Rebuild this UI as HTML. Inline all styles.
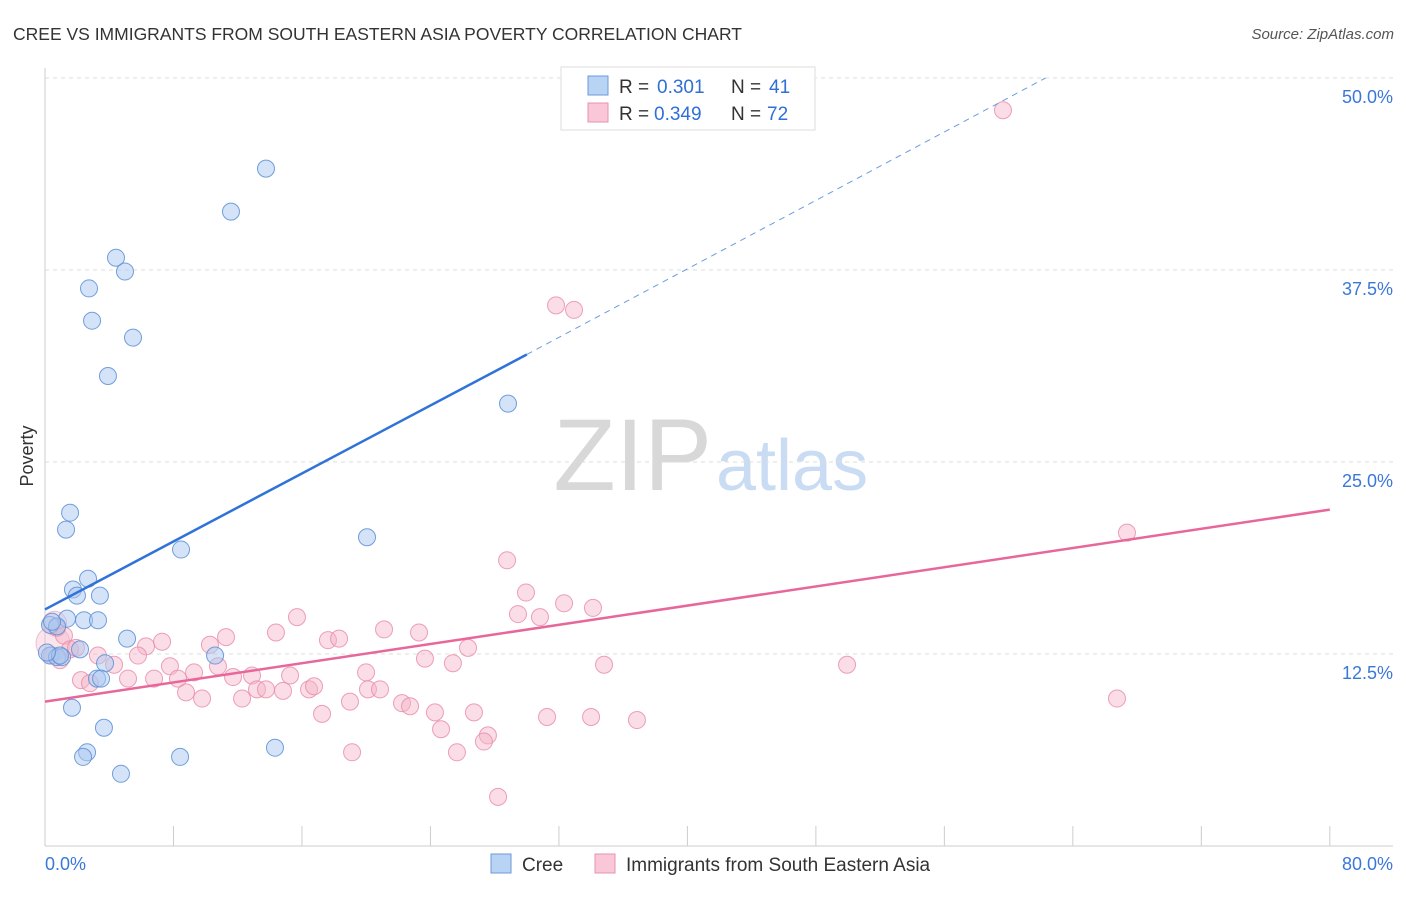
<!DOCTYPE html>
<html><head><meta charset="utf-8"><style>
body{margin:0;background:#fff;font-family:"Liberation Sans",sans-serif;}
svg text{font-family:"Liberation Sans",sans-serif;}
</style></head><body>
<svg id="chart" width="1406" height="892" xmlns="http://www.w3.org/2000/svg">
<text x="13" y="40" font-size="17.5" fill="#333">CREE VS IMMIGRANTS FROM SOUTH EASTERN ASIA POVERTY CORRELATION CHART</text>
<text x="1394" y="39" font-size="15" fill="#555" font-style="italic" text-anchor="end">Source: ZipAtlas.com</text>
<text x="712" y="490" font-size="102" fill="#d8d8d8" font-family="Liberation Serif,serif" text-anchor="end">ZIP</text>
<text x="716" y="490" font-size="72" fill="#c9dcf3">atlas</text>
<text transform="translate(33,456) rotate(-90)" font-size="18" fill="#333" text-anchor="middle">Poverty</text>
<g id="grid"></g><g id="axes"></g><g id="pts"></g><g id="lines"></g>
<g>
<rect x="561" y="67" width="254" height="63" fill="#fff" stroke="#ddd"/>
<rect x="588" y="76" width="20" height="19" fill="#b9d3f5" stroke="#6c9ad8"/>
<rect x="588" y="103" width="20" height="19" fill="#f9c7d7" stroke="#e893ae"/>
<text x="619" y="93" font-size="19" fill="#333">R = </text>
<text x="657" y="93" font-size="19" fill="#2f6fd6">0.301</text>
<text x="731" y="93" font-size="19" fill="#333">N = </text>
<text x="769" y="93" font-size="19" fill="#2f6fd6">41</text>
<text x="619" y="120" font-size="19" fill="#333">R = </text>
<text x="654" y="120" font-size="19" fill="#2f6fd6">0.349</text>
<text x="731" y="120" font-size="19" fill="#333">N = </text>
<text x="767" y="120" font-size="19" fill="#2f6fd6">72</text>
</g>
<g>
<rect x="491" y="854" width="20" height="19" fill="#b9d3f5" stroke="#6c9ad8"/>
<text x="522" y="871" font-size="19" fill="#333">Cree</text>
<rect x="595" y="854" width="20" height="19" fill="#f9c7d7" stroke="#e893ae"/>
<text x="626" y="871" font-size="19" fill="#333">Immigrants from South Eastern Asia</text>
</g>
</svg>
<script>
const yTicks=[12.5,25,37.5,50];
const yTickLabels=["12.5%","25.0%","37.5%","50.0%"];
const xTickLabels=["0.0%","80.0%"];
const creeX=[13.76,11.58,4.42,4.98,2.74,2.93,5.48,3.92,28.83,1.56,1.31,8.47,20.05,2.68,1.74,1.99,3.42,1.37,2.43,3.30,0.31,0.75,5.11,2.18,0.31,0.75,1.06,3.74,10.59,3.24,3.49,1.68,3.67,2.62,2.37,8.41,14.32,4.73,0.44,0.93,0.12];
const creeY=[44.1,41.3,38.3,37.4,36.3,34.2,33.1,30.6,28.8,21.7,20.6,19.3,20.1,17.4,16.7,16.3,16.3,14.8,14.7,14.7,14.4,14.3,13.5,12.8,12.4,12.3,12.3,11.9,12.4,10.9,10.9,9.0,7.7,6.1,5.8,5.8,6.4,4.7,14.6,12.4,12.6];
const immX=[59.65,31.82,32.94,67.37,28.77,29.95,32.32,34.12,29.45,30.82,15.69,11.27,14.38,21.11,23.29,17.62,18.31,7.29,6.29,10.27,26.34,23.66,25.40,34.81,49.94,3.30,5.79,4.30,7.78,10.77,9.28,12.89,15.26,19.99,11.71,8.28,5.17,2.24,2.80,6.79,8.78,9.78,12.27,13.20,13.76,14.82,16.44,16.75,20.11,20.86,18.99,22.23,22.73,17.25,24.28,26.71,31.26,34.00,36.86,66.75,24.66,27.58,27.33,19.12,25.65,28.21,0.75,1.18,1.56,1.93,0.44,0.93];
const immY=[47.9,35.2,34.9,20.4,18.6,16.5,15.8,15.5,15.1,14.9,14.9,13.6,13.9,14.1,13.9,13.4,13.5,13.3,13.0,13.1,12.9,12.2,11.9,11.8,11.8,12.4,12.4,11.8,11.7,11.7,11.3,11.1,11.1,11.3,11.0,10.9,10.9,10.8,10.6,10.9,10.0,9.6,9.6,10.2,10.2,10.1,10.2,10.4,10.2,10.2,9.4,9.3,9.1,8.6,8.7,8.7,8.4,8.4,8.2,9.6,7.6,7.2,6.8,6.1,6.1,3.2,14.2,13.7,12.8,12.9,12.4,12.1];
const creeLine=[[0,15.4],[30,32.0],[62.3,50]];
const immLine=[[0,9.4],[80,21.9]];
const X=v=>45+v*16.06, Y=v=>846-v*15.36;
const NS="http://www.w3.org/2000/svg";
function mk(t,a,p){const e=document.createElementNS(NS,t);for(const k in a)e.setAttribute(k,a[k]);p.appendChild(e);return e;}
const grid=document.getElementById('grid'),axes=document.getElementById('axes'),pts=document.getElementById('pts'),lines=document.getElementById('lines');
yTicks.forEach((t,i)=>{
 const g=mk('line',{x1:45,x2:1393,y1:Y(t),y2:Y(t),stroke:'#ddd','stroke-dasharray':'4,4'},grid);
 
 
 const l=mk('text',{x:1393,y:Y(t)+25,'font-size':18,fill:'#3a78d8','text-anchor':'end'},axes);l.textContent=yTickLabels[i];
 
 
});
mk('line',{x1:45,x2:45,y1:68,y2:846,stroke:'#ccc'},axes);
mk('line',{x1:45,x2:1393,y1:846,y2:846,stroke:'#ccc'},axes);
for(let i=1;i<=10;i++){const t=mk('line',{x1:X(i*8),x2:X(i*8),y1:826,y2:846,stroke:'#ccc'},axes);
 
 }
[[0,'start',45],[80,'end',1393]].forEach((d,i)=>{const l=mk('text',{x:d[2],y:870,'font-size':18,fill:'#3a78d8','text-anchor':d[1]},axes);l.textContent=xTickLabels[i];
 
 });
[[0.5,13.2,17],[0.6,14.5,12]].forEach(c=>{mk('circle',{cx:X(c[0]),cy:Y(c[1]),r:c[2],fill:'#f5b3c8','fill-opacity':0.35,stroke:'#e88aa8','stroke-opacity':0.5},pts);});
immX.forEach((v,i)=>{const c=mk('circle',{cx:X(v),cy:Y(immY[i]),r:8.5,fill:'#f5b3c8','fill-opacity':0.45,stroke:'#e88aa8','stroke-opacity':0.8},pts);
 
 });
creeX.forEach((v,i)=>{const c=mk('circle',{cx:X(v),cy:Y(creeY[i]),r:8.5,fill:'#a9c8f0','fill-opacity':0.5,stroke:'#5b8fd6','stroke-opacity':0.85},pts);
 
 });
const b1=mk('line',{x1:X(creeLine[0][0]),y1:Y(creeLine[0][1]),x2:X(creeLine[1][0]),y2:Y(creeLine[1][1]),stroke:'#2f72d8','stroke-width':2.5},lines);


const b2=mk('line',{x1:X(creeLine[1][0]),y1:Y(creeLine[1][1]),x2:X(creeLine[2][0]),y2:Y(creeLine[2][1]),stroke:'#6a9be0','stroke-width':1,'stroke-dasharray':'6,5'},lines);


const p1=mk('line',{x1:X(immLine[0][0]),y1:Y(immLine[0][1]),x2:X(immLine[1][0]),y2:Y(immLine[1][1]),stroke:'#e8679a','stroke-width':2.5},lines);


</script>
</body></html>
